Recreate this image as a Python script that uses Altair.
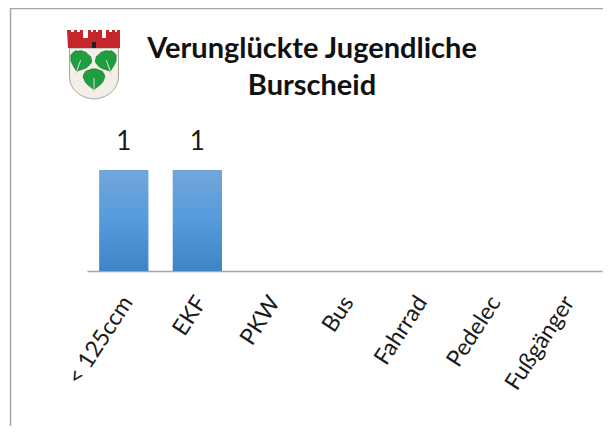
import altair as alt
import pandas as pd
import urllib.parse

categories = ["< 125ccm", "EKF", "PKW", "Bus", "Fahrrad", "Pedelec", "Fußgänger"]
values = [1, 1, 0, 0, 0, 0, 0]
title_lines = ["Verunglückte Jugendliche", "Burscheid"]
FONT = "Lato"

df = pd.DataFrame({"cat": categories, "val": values})
df["lab"] = [str(v) if v else "" for v in values]

leaf = ('<g transform="translate({x},{y}) rotate({r})"><path d="M0,-11 C3,-12 5,-9 8,-9 C10,-6 12,-4 10,-1 C9,4 4,6 0,10 '
        'C-4,6 -9,4 -10,-1 C-12,-4 -10,-6 -8,-9 C-5,-9 -3,-12 0,-11Z" fill="#1f9e40" stroke="#14702c" stroke-width=".6"/>'
        '<path d="M0,-2 L0,13" stroke="#d4dfc8" stroke-width="1" fill="none"/></g>')
crest = ('<svg xmlns="http://www.w3.org/2000/svg" width="54" height="70" viewBox="0 0 54 70">'
         '<path d="M2.5,18 H51.5 V46 C51.5,60 40,68 27,69 C14,68 2.5,60 2.5,46Z" fill="#f3efe6" stroke="#a5a5a0" stroke-width="1"/>'
         '<path d="M0,0 H4 V2 H7 V0 H10 V2 H13 V0 H16 V8 H21 V0 H24 V2 H26 V0 H29 V2 H31 V0 H35 V8 H39 V0 H42 V2 H45 V0 H48 V2 H50 V0 H53 V18 H1Z" fill="#c4262b"/>'
         '<rect x="25" y="12" width="4" height="6" fill="#222"/>'
         + leaf.format(x=13, y=32, r=20) + leaf.format(x=40, y=32, r=-20) + leaf.format(x=27, y=50, r=0) +
         '</svg>')
crest_url = "data:image/svg+xml," + urllib.parse.quote(crest)

x = alt.X("cat:N", sort=categories,
          scale=alt.Scale(domain=categories, range=[79, 594], paddingInner=0.33, paddingOuter=0.165),
          axis=alt.Axis(title=None, labelAngle=-57, labelAlign="right", labelBaseline="middle",
                        labelFont=FONT, labelFontSize=23, labelColor="#1a1a1a", labelPadding=27,
                        labelOffset=4, ticks=False, domainColor="#a6a6a6", domainWidth=1.5,
                        labelOverlap=False, labelBound=False, labelFlush=False))
y = alt.Y("val:Q", scale=alt.Scale(domain=[0, 1], range=[263, 162]), axis=None)

bars = alt.Chart(df).mark_bar(
    color=alt.Gradient(gradient="linear", x1=0, y1=0, x2=0, y2=1,
                       stops=[alt.GradientStop(color="#72a6da", offset=0),
                              alt.GradientStop(color="#559bdc", offset=0.5),
                              alt.GradientStop(color="#3f84c4", offset=1)])
).encode(x=x, y=y)

labels = alt.Chart(df).mark_text(font=FONT, fontSize=26, color="#1a1a1a", dy=-28).encode(
    x=x, y=y, text="lab:N")

frame_left = alt.Chart(df.head(1)).mark_rule(color="#a6a6a6", strokeWidth=1.5).encode(
    x=alt.value(2.5), y=alt.value(0), y2=alt.value(418))
frame_top = alt.Chart(df.head(1)).mark_rule(color="#a6a6a6", strokeWidth=1.5).encode(
    x=alt.value(2), x2=alt.value(595), y=alt.value(0.5))

t1 = alt.Chart(df.head(1)).mark_text(font=FONT, fontSize=29, fontWeight="bold", color="#111111").encode(
    x=alt.value(304), y=alt.value(41), text=alt.value(title_lines[0]))
t2 = alt.Chart(df.head(1)).mark_text(font=FONT, fontSize=29, fontWeight="bold", color="#111111").encode(
    x=alt.value(304), y=alt.value(78), text=alt.value(title_lines[1]))

logo = alt.Chart(df.head(1)).mark_image(url=crest_url, width=54, height=70, align="left", baseline="top").encode(
    x=alt.value(59), y=alt.value(22))

chart = (bars + labels + frame_left + frame_top + t1 + t2 + logo).properties(
    width=595, height=263, padding={"left": 0, "top": 0, "right": 0, "bottom": 155},
    autosize=alt.AutoSizeParams(type="none"),
).configure_view(stroke=None)

chart.save("out.html", embed_options={"renderer": "svg", "actions": False})
